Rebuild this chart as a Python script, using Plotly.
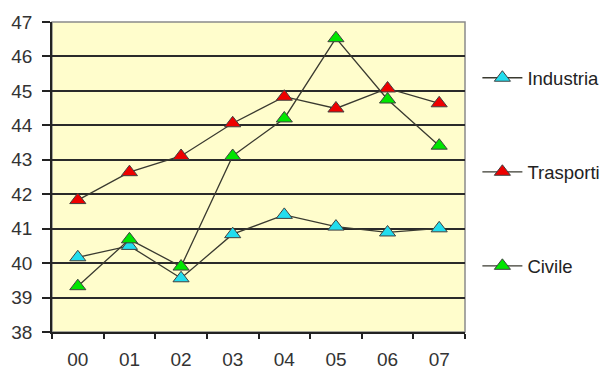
import plotly.graph_objects as go

years = ["00", "01", "02", "03", "04", "05", "06", "07"]
industria = [40.17, 40.50, 39.56, 40.84, 41.40, 41.06, 40.89, 41.01]
trasporti = [41.83, 42.64, 43.11, 44.06, 44.83, 44.49, 45.07, 44.64]
civile = [39.33, 40.69, 39.90, 43.11, 44.20, 46.53, 44.75, 43.41]
y_ticks = [38, 39, 40, 41, 42, 43, 44, 45, 46, 47]

series = [
    ("Industria", industria, "#22DDEE"),
    ("Trasporti", trasporti, "#EE0000"),
    ("Civile", civile, "#00E600"),
]

fig = go.Figure()
for i, (name, vals, col) in enumerate(series):
    fig.add_trace(go.Scatter(
        x=years, y=vals, name=name, mode="lines+markers",
        legendgroup=name,
        line=dict(color="#3a3a30", width=1.3),
        marker=dict(symbol="triangle-up", size=14, color=col,
                    line=dict(color="#404040", width=1)),
    ))

font = "Liberation Sans, Arial, sans-serif"
fig.update_layout(
    width=600, height=361,
    margin=dict(l=44, r=143, t=14, b=37, autoexpand=False),
    paper_bgcolor="white",
    plot_bgcolor="#FFFDCC",
    font=dict(family=font, size=19, color="#333333"),
    showlegend=True,
    legend=dict(x=1.03, y=0.88, xanchor="left", yanchor="top",
                tracegroupgap=67, itemwidth=40,
                font=dict(size=18.5, color="#222222"),
                bgcolor="rgba(0,0,0,0)"),
    xaxis=dict(type="category", showgrid=False, showline=True,
               linecolor="#222", linewidth=1.5, ticks="outside",
               tickson="boundaries", ticklen=5, tickcolor="#222",
               tickwidth=1.5, ticklabelstandoff=9, automargin=False,
               range=[-0.5, 7.5]),
    yaxis=dict(range=[38, 47], tickvals=y_ticks, showgrid=True,
               gridcolor="#2a2a2a", gridwidth=1.5, showline=True,
               linecolor="#222", linewidth=1.5, ticks="outside",
               ticklen=8, tickcolor="#222", tickwidth=1.5,
               ticklabelstandoff=6, zeroline=False, automargin=False),
)
fig.add_shape(type="rect", xref="x domain", yref="y domain",
              x0=0, x1=1, y0=0, y1=1, line=dict(color="#8a8a8a", width=1.5),
              layer="below")
fig.write_html("out.html")
